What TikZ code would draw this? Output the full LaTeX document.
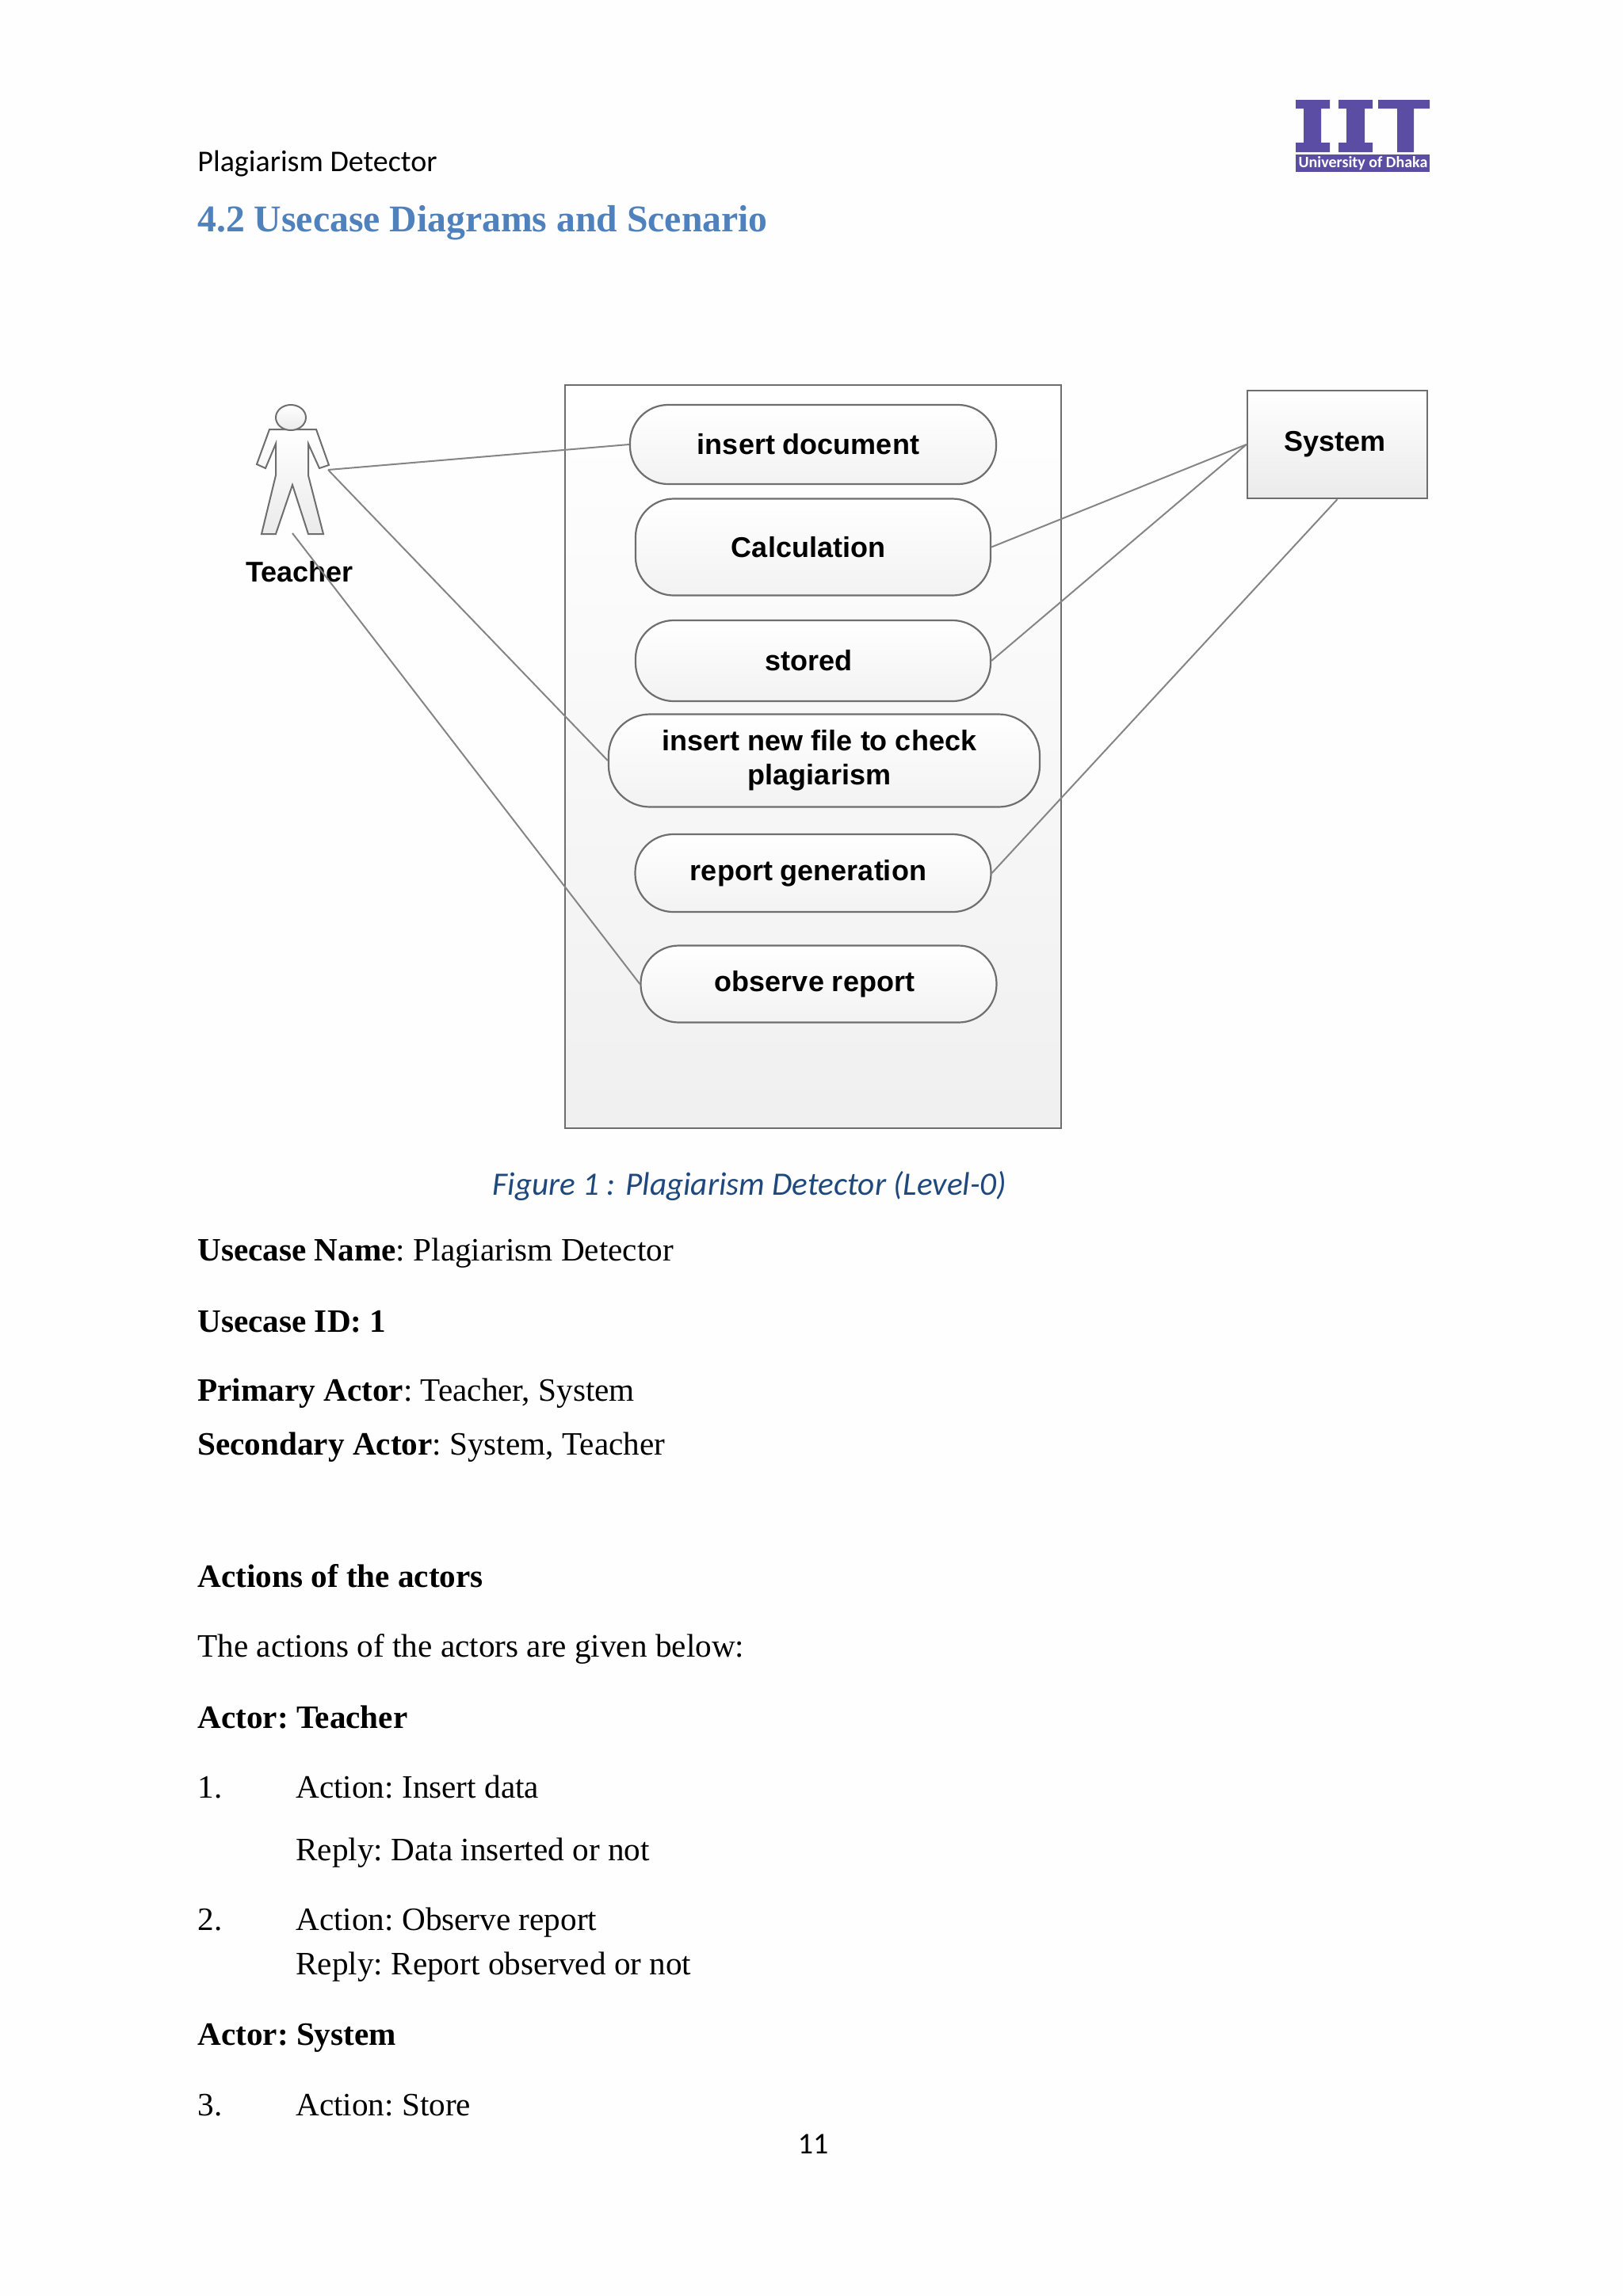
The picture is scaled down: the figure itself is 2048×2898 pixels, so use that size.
\documentclass[tikz,border=0pt]{standalone}
\usepackage{fontspec}
\setmainfont{Liberation Serif}
\newfontfamily\arialf{Liberation Sans}
\newfontfamily\calib{Carlito}
\definecolor{pagebg}{HTML}{FEFEFE}
\definecolor{linegray}{HTML}{858585}
\definecolor{edgegray}{HTML}{6E6E6E}
\definecolor{headblue}{HTML}{4F81BD}
\definecolor{capblue}{HTML}{1F497D}
\definecolor{logopurple}{HTML}{5A4DA3}
\tikzset{
  usecase/.style={draw=edgegray,line width=1.1pt,rounded corners=24pt,top color=white,bottom color=black!5,inner sep=0pt,align=center,
    font=\arialf\bfseries\fontsize{18}{21.5}\selectfont},
  assoc/.style={draw=linegray,line width=1pt},
  bodytext/.style={anchor=base west,inner sep=0pt,font=\frenchspacing\fontsize{20.6}{25}\selectfont},
  actorshape/.style={draw=edgegray,line width=1pt,top color=white,bottom color=black!8,line join=miter},
  logoshape/.style={fill=logopurple,draw=none}
}
\begin{document}
\begin{tikzpicture}[x=0.5pt,y=-0.5pt]
\useasboundingbox (0,0) rectangle (2048,2898);
\fill[pagebg] (0,0) rectangle (2048,2898);

% page header
\node[anchor=base west,inner sep=0pt,font=\calib\fontsize{19}{23}\selectfont] (hdr) at (249,216) {Plagiarism Detector};
\node[anchor=base west,inner sep=0pt,text=headblue,font=\bfseries\fontsize{23.85}{28}\selectfont] (sec) at (249,292) {4.2 Usecase Diagrams and Scenario};

% logo
\fill[logoshape] (1635,126) -- (1678,126) -- (1678,137) -- (1667,137) -- (1667,180) -- (1678,180) -- (1678,192) -- (1635,192) -- (1635,180) -- (1645,180) -- (1645,137) -- (1635,137) -- cycle;
\fill[logoshape] (1689,126) -- (1732,126) -- (1732,137) -- (1722,137) -- (1722,180) -- (1732,180) -- (1732,192) -- (1689,192) -- (1689,180) -- (1699,180) -- (1699,137) -- (1689,137) -- cycle;
\fill[logoshape] (1739,126) -- (1804,126) -- (1804,137) -- (1784,137) -- (1784,192) -- (1763,192) -- (1763,137) -- (1739,137) -- cycle;
\fill[logoshape] (1635,195) rectangle (1804,217);
\node[inner sep=0pt,text=white,font=\calib\bfseries\fontsize{10}{12}\selectfont] (logotxt) at (1720,206) {University of Dhaka};

% system boundary
\node[draw=edgegray,line width=1.2pt,top color=white,bottom color=black!6,minimum width=313pt,minimum height=469pt,inner sep=0pt] (bound) at (1026,955) {};

% use cases
\node[usecase,minimum width=231pt,minimum height=50pt] (insdoc) at (1026,561) {insert document\kern6pt};
\node[usecase,minimum width=224pt,minimum height=61pt] (calc) at (1026,690.5) {Calculation\kern6pt};
\node[usecase,minimum width=224pt,minimum height=51pt] (stored) at (1026,834) {\raisebox{0.7pt}{stored}\kern5.5pt};
\node[usecase,rounded corners=26pt,minimum width=272pt,minimum height=58.5pt] (insnew) at (1040,960) {\raisebox{-0.7pt}{insert new file to check}\kern6pt\\\raisebox{-0.7pt}{plagiarism}\kern6pt};
\node[usecase,minimum width=224.5pt,minimum height=49pt] (rep) at (1026,1102) {\raisebox{-0.5pt}{report generation}\kern6pt};
\node[usecase,minimum width=224.5pt,minimum height=48.5pt] (obs) at (1033,1242) {\raisebox{-0.5pt}{observe report}\kern5pt};

% secondary actor
\node[draw=edgegray,line width=1.2pt,top color=white,bottom color=black!8,minimum width=113.5pt,minimum height=68pt,inner sep=0pt,
  font=\arialf\bfseries\fontsize{18}{21}\selectfont] (sys) at (1687.5,561) {\raisebox{-1pt}{System}\kern3pt};

% primary actor figure
\filldraw[actorshape] (340,542) -- (399,542) -- (415,587) -- (403,591) -- (389,560) -- (389,600) -- (408,674) -- (389,674) -- (369,612) -- (348,674) -- (330,674) -- (348,600) -- (348,560) -- (335,591) -- (324,586) -- cycle;
\filldraw[actorshape] (367,527) ellipse [x radius=9.5pt,y radius=8pt];
\node[inner sep=0pt,font=\arialf\bfseries\fontsize{18}{21}\selectfont] (teacher) at (378,722) {Teacher};
\coordinate (hand) at (414,593);
\coordinate (foot) at (369,673);

% associations
\draw[assoc] (hand) -- (insdoc.west);
\draw[assoc] (hand) -- (insnew.west);
\draw[assoc] (foot) -- (obs.west);
\draw[assoc] (calc.east) -- (sys.west);
\draw[assoc] (stored.east) -- (sys.west);
\draw[assoc] (rep.east) -- (sys.south);

% caption
\node[anchor=base,inner sep=0pt,text=capblue,font=\calib\itshape\fontsize{20.6}{24}\selectfont] (cap) at (946,1508) {Figure 1 : Plagiarism Detector (Level-0)};

% body text
\node[bodytext] (t1) at (249,1591) {\textbf{Usecase Name}: Plagiarism Detector};
\node[bodytext] (t2) at (249,1681) {\textbf{Usecase ID: 1}};
\node[bodytext] (t3) at (249,1768) {\textbf{Primary Actor}: Teacher, System};
\node[bodytext] (t4) at (249,1836) {\textbf{Secondary Actor}: System, Teacher};
\node[bodytext] (t5) at (249,2003) {\textbf{Actions of the actors}};
\node[bodytext] (t6) at (249,2091) {The actions of the actors are given below:};
\node[bodytext] (t7) at (249,2181) {\textbf{Actor: Teacher}};
\node[bodytext] (n1) at (249,2269) {1.};
\node[bodytext] (a1) at (373,2269) {Action: Insert data};
\node[bodytext] (r1) at (373,2348) {Reply: Data inserted or not};
\node[bodytext] (n2) at (249,2436) {2.};
\node[bodytext] (a2) at (373,2436) {Action: Observe report};
\node[bodytext] (r2) at (373,2492) {Reply: Report observed or not};
\node[bodytext] (t8) at (249,2581) {\textbf{Actor: System}};
\node[bodytext] (n3) at (249,2670) {3.};
\node[bodytext] (a3) at (373,2670) {Action: Store};

% page number
\node[anchor=base,inner sep=0pt,font=\calib\fontsize{19}{23}\selectfont] (pg) at (1026,2718) {11};
\end{tikzpicture}
\end{document}
